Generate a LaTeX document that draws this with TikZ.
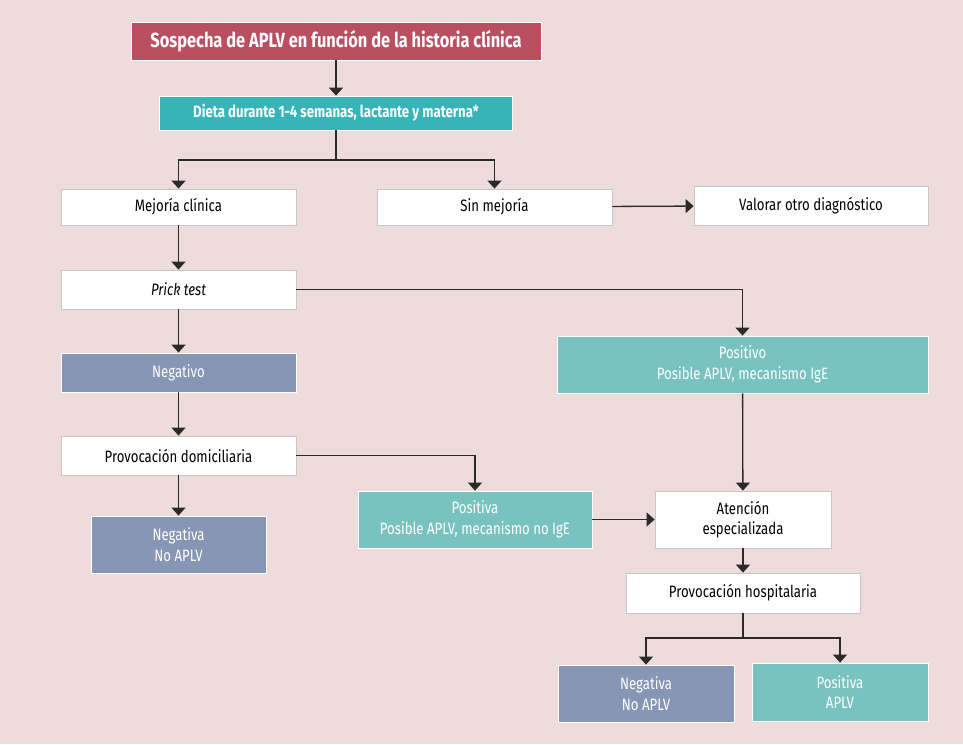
\documentclass[tikz,border=0pt]{standalone}
\usepackage{fontspec}
\setmainfont{Fira Sans}[FakeStretch=0.8]
\usetikzlibrary{arrows.meta}
\definecolor{bgc}{HTML}{EEDCDD}
\definecolor{rose}{HTML}{B94F61}
\definecolor{tealdark}{HTML}{37B4B8}
\definecolor{teallight}{HTML}{78C2C0}
\definecolor{slate}{HTML}{8796B5}
\definecolor{linec}{HTML}{2A2A2A}
\tikzset{
  box/.style={draw=gray!45, line width=0.8pt, fill=white, text=black, align=center, inner sep=0pt, font=\fontsize{16.5}{20.5}\selectfont},
  cbox/.style={box, draw=white, text=white},
  conn/.style={draw=linec, line width=1.3pt, -{Triangle[width=14pt,length=8pt]}},
  plain/.style={draw=linec, line width=1.3pt},
}
\begin{document}
\begin{tikzpicture}[x=1pt,y=-1pt]
\fill[bgc] (0,0) rectangle (963,744);
\useasboundingbox (0,0) rectangle (963,744);
% nodes
\node[cbox, fill=rose, minimum width=410pt, minimum height=38pt, font=\fontsize{20.5}{24}\selectfont\bfseries] (s) at (336,41) {Sospecha de APLV en función de la historia clínica};
\node[cbox, fill=tealdark, minimum width=353pt, minimum height=34pt, font=\fontsize{16.5}{20}\selectfont\bfseries] (d) at (336,113) {Dieta durante 1-4 semanas, lactante y materna*};
\node[box, minimum width=235pt, minimum height=36pt] (m) at (178.5,207) {Mejoría clínica};
\node[box, minimum width=235pt, minimum height=36pt] (sm) at (494.5,207) {Sin mejoría};
\node[box, minimum width=234pt, minimum height=39pt] (v) at (811,205.5) {Valorar otro diagnóstico};
\node[box, minimum width=235pt, minimum height=39pt] (p) at (178.5,289.5) {\itshape Prick test};
\node[cbox, fill=slate, minimum width=235pt, minimum height=39pt] (n) at (178.5,372.5) {Negativo};
\node[cbox, fill=teallight, minimum width=371pt, minimum height=57pt] (pos) at (742.5,364.5) {Positivo\\Posible APLV, mecanismo IgE};
\node[box, minimum width=235pt, minimum height=39pt] (pd) at (178.5,455.5) {Provocación domiciliaria};
\node[cbox, fill=slate, minimum width=175pt, minimum height=57pt] (na) at (178.5,544.5) {Negativa\\No APLV};
\node[cbox, fill=teallight, minimum width=234pt, minimum height=57pt] (pn) at (475,519.5) {Positiva\\Posible APLV, mecanismo no IgE};
\node[box, minimum width=176pt, minimum height=57pt] (at) at (743,519.5) {Atención\\especializada};
\node[box, minimum width=234pt, minimum height=40pt] (ph) at (743,593) {Provocación hospitalaria};
\node[cbox, fill=slate, minimum width=176pt, minimum height=57pt] (nb) at (646,693.5) {Negativa\\No APLV};
\node[cbox, fill=teallight, minimum width=176pt, minimum height=58pt] (pb) at (840,692) {Positiva\\APLV};
% connectors
\draw[conn] (s) -- (d);
\coordinate (j1) at (336,160);
\draw[plain] (d) -- (j1);
\draw[conn] (j1) -| (m);
\draw[conn] (j1) -| (sm);
\draw[conn] (sm) -- (v);
\draw[conn] (m) -- (p);
\draw[conn] (p.east) -| (pos.north);
\draw[conn] (p) -- (n);
\draw[conn] (n) -- (pd);
\draw[conn] (pd.east) -| (pn.north);
\draw[conn] (pd) -- (na);
\draw[conn] (pos) -- (at);
\draw[conn] (pn) -- (at);
\draw[conn] (at) -- (ph);
\coordinate (j2) at (743,638);
\draw[plain] (ph) -- (j2);
\draw[conn] (j2) -| (nb.north);
\draw[conn] (j2) -| (pb.north);
\end{tikzpicture}
\end{document}
